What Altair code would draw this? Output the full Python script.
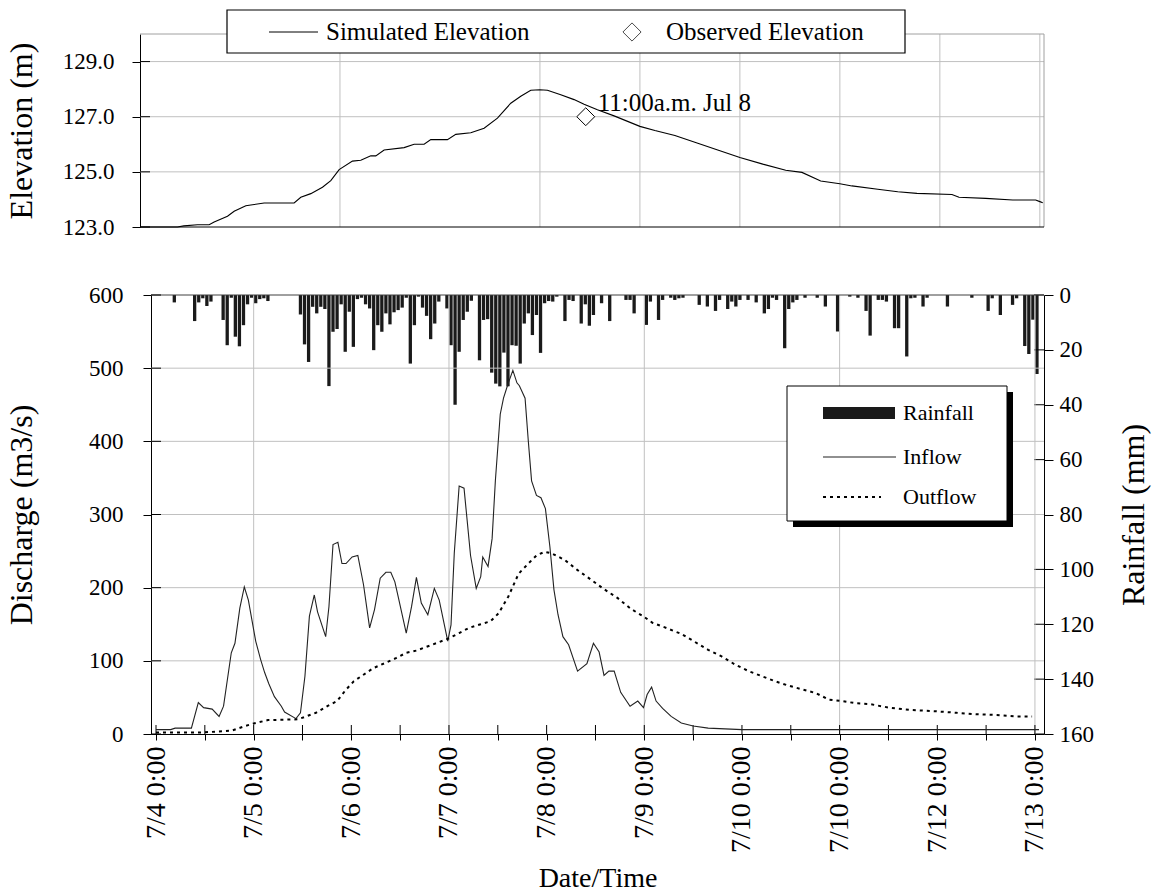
import altair as alt
import pandas as pd

FONT = "Liberation Serif"

# ---------------- data ----------------
day_labels = ["7/4 0:00", "7/5 0:00", "7/6 0:00", "7/7 0:00", "7/8 0:00",
              "7/9 0:00", "7/10 0:00", "7/10 0:00", "7/12 0:00", "7/13 0:00"]

# hours since 7/4 0:00
elev_hour = [0, 9, 10.5, 13.8, 16.6, 17.8, 21, 22.6, 25.4, 26.6, 29.8, 37, 38.6, 41,
             43.8, 45.8, 47.8, 51, 53, 55.4, 56.6, 58.6, 63.4, 65.8, 68.2, 69.8, 73.8,
             75.8, 79.4, 82.6, 85.8, 89, 91.4, 93.8, 96, 97.8, 101, 104.2, 106.6, 109.8,
             113.8, 120, 123.6, 128.4, 133.9, 138.5, 144, 149.5, 155, 158.9, 163.4, 168,
             170.9, 177.1, 181.9, 186.5, 194.9, 196.6, 203, 209.5, 215, 216, 216.7]
elev_m = [123.0, 123.0, 123.04, 123.08, 123.08, 123.18, 123.39, 123.57, 123.77, 123.8,
          123.87, 123.87, 124.08, 124.21, 124.44, 124.68, 125.08, 125.39, 125.42, 125.58,
          125.58, 125.79, 125.88, 126.0, 126.0, 126.17, 126.17, 126.36, 126.42, 126.58,
          126.95, 127.49, 127.74, 127.96, 127.98, 127.96, 127.8, 127.62, 127.45, 127.25,
          127.03, 126.65, 126.5, 126.32, 126.04, 125.8, 125.52, 125.28, 125.06, 124.98,
          124.67, 124.57, 124.49, 124.37, 124.28, 124.22, 124.18, 124.08, 124.04, 123.98,
          123.98, 123.92, 123.88]

obs_hour = [107]
obs_m = [127.0]
obs_text = ["11:00a.m. Jul 8"]

inflow_hour = [0, 3.6, 4.7, 8.7, 10.4, 11.7, 13.8, 15.5, 16.6, 18.5, 19.4, 20.6, 21.7, 22.7,
               24.5, 25.7, 26.7, 27.7, 29.1, 30.8, 31.6, 34.4, 35.5, 36.6, 37.7, 38.9, 39.7,
               41.7, 42.5, 43.5, 44.7, 45.7, 46.7, 48.2, 49.6, 51.0, 52.5, 53.7, 55.1, 56.5,
               57.7, 58.7, 59.5, 61.5, 62.8, 64.0, 65.2, 66.8, 68.4, 69.6, 71.7, 72.5, 73.3,
               74.5, 75.7, 77.3, 78.7, 79.8, 80.3, 81.6, 82.6, 83.4, 84.6, 85.4, 86.6, 87.7,
               88.7, 89.3, 90.7, 91.5, 92.3, 93.5, 94.6, 95.7, 96.8, 97.8, 98.8, 100, 101.4,
               103.6, 105.9, 107.5, 108.9, 110.1, 111.3, 112.6, 114.2, 116.5, 118.4, 119.8,
               120.7, 121.8, 122.9, 124.5, 126.6, 129.1, 132, 135.7, 144, 217]
inflow_q = [6, 6, 8, 8, 43, 36, 34, 24, 38, 111, 124, 172, 201, 183,
            127, 102, 84, 69, 51, 38, 30, 21, 29, 79, 161, 190, 167,
            133, 174, 259, 262, 233, 233, 242, 244, 204, 145, 170, 213, 221,
            221, 208, 188, 138, 174, 214, 179, 163, 199, 183, 127, 149, 247,
            339, 336, 244, 199, 215, 242, 229, 267, 346, 437, 459, 480, 497,
            480, 476, 459, 400, 346, 326, 323, 308, 256, 197, 163, 133, 122,
            86, 96, 124, 112, 80, 86, 86, 57, 38, 45, 36,
            54, 64, 45, 35, 24, 15, 11, 8, 6, 6]

outflow_hour = [0, 11, 18.6, 21.9, 24.5, 27.5, 34.8, 36.4, 39.3, 42.1, 44.5, 46.6, 48.6, 51,
                53.4, 56.7, 59.1, 61.5, 64, 66.4, 68.8, 72.1, 74.5, 76.9, 79.8, 82.2, 84.2,
                86.6, 89.1, 91.5, 93.5, 95.5, 97.2, 100.4, 103.6, 106.9, 110.1, 113.4, 116.7,
                120, 122, 124.9, 129, 132.4, 135.7, 139, 142.3, 145.6, 148.9, 152.2, 155.5,
                158.8, 162.1, 165.4, 168.7, 172, 175.3, 180.2, 185.2, 191.8, 196.7, 201.6,
                206.6, 211.5, 215.3]
outflow_q = [2, 2, 4.5, 11, 15, 19, 20, 23, 29, 38, 45, 60, 72, 81,
             90, 98, 104, 111, 114, 119, 124, 131, 138, 145, 150, 154, 165,
             188, 219, 233, 244, 249, 247, 238, 224, 211, 198, 186, 171,
             160, 152, 146, 137, 126, 115, 106, 95, 86, 79, 72, 66,
             61, 56, 47, 45, 42, 41, 36, 33, 31, 29, 27,
             26, 24, 24]

# hourly rainfall (start hour of each hourly bar, mm)
rain_hour = [4, 9, 10, 11, 12, 13, 16, 17, 18, 19, 20, 21, 22, 23, 24, 25, 26, 27,
             35, 36, 37, 38, 39, 40, 41, 42, 43, 44, 45, 46, 47, 48, 49, 50, 51, 52, 53,
             54, 55, 56, 57, 58, 59, 60, 61, 62, 63, 64, 65, 66, 67, 68, 69, 71, 72, 73,
             74, 75, 76, 77, 79, 80, 81, 82, 83, 84, 85, 86, 87, 88, 89, 90, 91, 92, 93,
             94, 95, 96, 97, 98, 100, 101, 102, 104, 105, 106, 107, 109, 111, 115, 116,
             117, 120, 121, 123, 124, 126, 127, 128, 129, 133, 135, 137, 138, 140, 141,
             142, 143, 145, 147, 149, 150, 151, 152, 154, 155, 156, 157, 159, 162, 164,
             167, 170, 172, 174, 175, 177, 178, 179, 181, 182, 184, 185, 186, 188, 189,
             194, 200, 204, 205, 207, 210, 211, 213, 214, 215, 216]
rain_mm = [2.7, 9.5, 2.7, 1.2, 4.0, 2.4, 9.1, 18.3, 1.0, 15.2, 18.7, 11.0, 3.4, 1.0, 3.0, 1.5, 1.2, 2.2,
           7.1, 18.0, 24.4, 4.3, 6.7, 4.3, 5.1, 33.2, 13.4, 12.4, 3.4, 20.7, 6.1, 18.9, 1.5, 1.0, 3.4, 4.9, 20.1,
           11.0, 13.4, 6.7, 10.7, 6.3, 5.5, 4.6, 1.0, 25.0, 11.0, 0.6, 4.6, 7.6, 16.1, 10.4, 2.4, 4.9, 18.3, 40.0,
           20.7, 9.1, 6.1, 2.1, 23.8, 9.1, 8.8, 28.3, 32.3, 33.3, 21.0, 33.3, 18.3, 18.5, 25.0, 10.4, 6.7, 14.6, 7.3,
           21.1, 3.0, 2.2, 2.4, 0.6, 9.5, 1.8, 2.2, 10.4, 3.4, 11.2, 7.3, 3.0, 9.5, 1.8, 1.8,
           6.7, 10.9, 2.4, 9.1, 1.8, 1.0, 1.8, 1.2, 1.0, 3.6, 4.2, 5.8, 1.8, 5.1, 2.4,
           4.2, 1.8, 1.8, 2.7, 6.7, 5.1, 1.0, 1.8, 19.4, 5.1, 2.7, 1.8, 1.0, 1.0, 4.2,
           13.3, 0.6, 1.0, 5.8, 14.8, 1.8, 1.8, 2.4, 12.1, 12.1, 22.4, 1.2, 1.0, 4.2, 1.0,
           4.2, 1.0, 5.8, 1.2, 7.3, 3.6, 1.2, 18.6, 21.5, 9.0, 28.8]

elev_ticks = [123, 125, 127, 129]
q_ticks = [0, 100, 200, 300, 400, 500, 600]
rain_ticks = [0, 20, 40, 60, 80, 100, 120, 140, 160]
x_ticks = list(range(0, 217, 12))
top_vgrid = [48, 96, 120, 144, 168, 192, 216]
bot_vgrid = [24, 72, 120, 168, 216]

# ---------------- layout constants ----------------
W = 893
H_TOP = 193
H_BOT = 439
X_DOM = [0, 217]
GRID = "#c0c0c0"
FS_Y = 23      # y tick labels
FS_X = 28      # x tick labels (rotated)
FS_TV = 32     # vertical axis titles
FS_TH = 28     # horizontal axis title
FS_LT = 25     # top legend / annotation
FS_LB = 22     # bottom legend

one = pd.DataFrame({"a": [0]})
elev_df = pd.DataFrame({"hour": elev_hour, "elev": elev_m})
obs_df = pd.DataFrame({"hour": obs_hour, "elev": obs_m, "label": obs_text})
in_df = pd.DataFrame({"hour": inflow_hour, "q": inflow_q})
out_df = pd.DataFrame({"hour": outflow_hour, "q": outflow_q})
rain_df = pd.DataFrame({"hour": rain_hour, "mm": rain_mm})

axis_text = dict(labelFont=FONT, labelColor="black", titleFont=FONT,
                 titleFontWeight="normal", titleColor="black",
                 tickColor="black", domainColor="black", grid=False)

# ================= TOP PANEL =================
tx = alt.Scale(domain=X_DOM, range=[-11, W], nice=False, zero=False)
ty = alt.Scale(domain=[123, 130], nice=False, zero=False)
ty_axis = alt.Axis(values=elev_ticks, format=".1f", offset=11, tickSize=8, labelPadding=18,
                   labelFontSize=FS_Y, title="Elevation (m)", titleFontSize=FS_TV,
                   titlePadding=24, **axis_text)
TX = alt.X("hour:Q", scale=tx, axis=None)
TY = alt.Y("elev:Q", scale=ty, axis=ty_axis)

top_hgrid = alt.Chart(pd.DataFrame({"elev": elev_ticks[1:]})).mark_rule(color=GRID, strokeWidth=1).encode(
    y=TY, x=alt.value(-11), x2=alt.value(W))
top_vgrid_l = alt.Chart(pd.DataFrame({"hour": top_vgrid})).mark_rule(color=GRID, strokeWidth=1).encode(
    x=TX, y=alt.value(0), y2=alt.value(H_TOP))
top_border = alt.layer(
    alt.Chart(one).mark_rule(color="#a0a0a0").encode(x=alt.value(-11), x2=alt.value(W), y=alt.value(0)),
    alt.Chart(one).mark_rule(color="#a0a0a0").encode(x=alt.value(W), y=alt.value(0), y2=alt.value(H_TOP)),
    alt.Chart(one).mark_rule(color="black").encode(x=alt.value(-11), x2=alt.value(W), y=alt.value(H_TOP)),
)
top_inner_ticks = alt.Chart(pd.DataFrame({"elev": elev_ticks})).mark_rule(color="black").encode(
    y=TY, x=alt.value(-11), x2=alt.value(-1))
elev_line = alt.Chart(elev_df).mark_line(color="black", strokeWidth=1.1).encode(x=TX, y=TY)
obs_pt = alt.Chart(obs_df).mark_point(shape="diamond", size=320, filled=True, fill="white",
                                      stroke="black", strokeWidth=1, opacity=1).encode(x=TX, y=TY)
obs_lbl = alt.Chart(obs_df).mark_text(align="left", baseline="middle", dx=12, dy=-14,
                                      font=FONT, fontSize=FS_LT, color="black").encode(
    x=TX, y=TY, text="label:N")

# legend of the top panel
tl_box = alt.Chart(one).mark_rect(fill="white", stroke="black", strokeWidth=1.2).encode(
    x=alt.value(76), x2=alt.value(754), y=alt.value(-24), y2=alt.value(19))
tl_line = alt.Chart(one).mark_rule(color="black", strokeWidth=1).encode(
    x=alt.value(118), x2=alt.value(167), y=alt.value(-2))
tl_dia = alt.Chart(one).mark_point(shape="diamond", size=330, filled=False, color="black", strokeWidth=1).encode(
    x=alt.value(481), y=alt.value(-2))
tl_t1 = alt.Chart(one).mark_text(text="Simulated Elevation", align="left", baseline="middle",
                                 font=FONT, fontSize=FS_LT, color="black").encode(x=alt.value(175), y=alt.value(-2))
tl_t2 = alt.Chart(one).mark_text(text="Observed Elevation", align="left", baseline="middle",
                                 font=FONT, fontSize=FS_LT, color="black").encode(x=alt.value(515), y=alt.value(-2))

top = alt.layer(top_hgrid, top_vgrid_l, top_border, top_inner_ticks, elev_line, obs_pt, obs_lbl,
                tl_box, tl_line, tl_dia, tl_t1, tl_t2).properties(width=W, height=H_TOP)

# ================= BOTTOM PANEL =================
bx = alt.Scale(domain=X_DOM, nice=False, zero=False)
qy = alt.Scale(domain=[0, 600], nice=False)
ry = alt.Scale(domain=[0, 160], reverse=True, nice=False)

label_expr = "''"
for i in range(len(day_labels) - 1, -1, -1):
    label_expr = f"datum.value == {i * 24} ? '{day_labels[i]}' : ({label_expr})"

x_axis = alt.Axis(values=x_ticks, labelExpr=label_expr, labelAngle=270, labelAlign="right",
                  labelBaseline="middle", tickSize=6, labelPadding=6, labelOverlap=False,
                  labelFontSize=FS_X, title="Date/Time", titleFontSize=FS_TH, titlePadding=12,
                  **axis_text)
q_axis = alt.Axis(values=q_ticks, tickSize=8, labelPadding=20, labelFontSize=FS_Y,
                  title="Discharge (m3/s)", titleFontSize=FS_TV, titlePadding=50, **axis_text)
r_axis = alt.Axis(orient="right", values=rain_ticks, tickSize=9, labelPadding=6, labelFontSize=FS_Y,
                  title="Rainfall (mm)", titleFontSize=FS_TV, titleAngle=270, titlePadding=57,
                  **axis_text)

BX = alt.X("hour:Q", scale=bx, axis=x_axis)
QY = alt.Y("q:Q", scale=qy, axis=q_axis)
RY = alt.Y("mm:Q", scale=ry, axis=r_axis)

b_hgrid = alt.Chart(pd.DataFrame({"q": q_ticks[1:-1]})).mark_rule(color=GRID).encode(
    y=QY, x=alt.value(0), x2=alt.value(W))
b_vgrid = alt.Chart(pd.DataFrame({"hour": bot_vgrid})).mark_rule(color=GRID).encode(
    x=BX, y=alt.value(0), y2=alt.value(H_BOT))
b_top = alt.Chart(one).mark_rule(color="#404040").encode(x=alt.value(0), x2=alt.value(W), y=alt.value(0))
b_left_ticks = alt.Chart(pd.DataFrame({"q": q_ticks})).mark_rule(color="black").encode(
    y=QY, x=alt.value(0), x2=alt.value(10))
b_x_ticks = alt.Chart(pd.DataFrame({"hour": x_ticks})).mark_rule(color="black").encode(
    x=BX, y=alt.value(H_BOT - 9), y2=alt.value(H_BOT))
in_line = alt.Chart(in_df).mark_line(color="#222222", strokeWidth=1.1).encode(x=BX, y=QY)
out_line = alt.Chart(out_df).mark_line(color="black", strokeWidth=2, strokeDash=[3, 4]).encode(x=BX, y=QY)

# legend of the bottom panel
bl_shadow = alt.Chart(one).mark_rect(fill="black").encode(
    x=alt.value(642), x2=alt.value(862), y=alt.value(97), y2=alt.value(232))
bl_box = alt.Chart(one).mark_rect(fill="white", stroke="black", strokeWidth=1).encode(
    x=alt.value(636), x2=alt.value(856), y=alt.value(91), y2=alt.value(226))
bl_sw = alt.Chart(one).mark_rect(fill="#1a1a1a").encode(
    x=alt.value(672), x2=alt.value(744), y=alt.value(112), y2=alt.value(124))
bl_in = alt.Chart(one).mark_rule(color="#222222", strokeWidth=1.1).encode(
    x=alt.value(672), x2=alt.value(745), y=alt.value(162))
bl_out = alt.Chart(one).mark_rule(color="black", strokeWidth=2, strokeDash=[3, 4]).encode(
    x=alt.value(672), x2=alt.value(730), y=alt.value(202))
bl_texts = [alt.Chart(one).mark_text(text=t, align="left", baseline="middle", font=FONT,
                                     fontSize=FS_LB, color="black").encode(x=alt.value(752), y=alt.value(yy))
            for t, yy in [("Rainfall", 118), ("Inflow", 162), ("Outflow", 202)]]

left_group = alt.layer(b_hgrid, b_vgrid, b_top, b_left_ticks, b_x_ticks, in_line, out_line)

rain_bars = alt.Chart(rain_df).mark_bar(size=3.3, color="#1a1a1a").transform_calculate(
    center="datum.hour + 0.5").encode(
    x=alt.X("center:Q", scale=bx, axis=x_axis), y=RY)
right_ticks = alt.Chart(pd.DataFrame({"mm": rain_ticks})).mark_rule(color="black").encode(
    y=RY, x=alt.value(W - 10), x2=alt.value(W))
right_group = alt.layer(rain_bars, right_ticks)

legend_group = alt.layer(bl_shadow, bl_box, bl_sw, bl_in, bl_out, *bl_texts)

bottom = alt.layer(right_group, left_group, legend_group).resolve_scale(y="independent").properties(
    width=W, height=H_BOT)

chart = alt.vconcat(top, bottom, spacing=45).properties(
    padding={"left": 5, "top": 9, "right": 2, "bottom": 0}
).configure_view(stroke=None)

chart.save("out.html", embed_options={"renderer": "svg", "actions": False})
